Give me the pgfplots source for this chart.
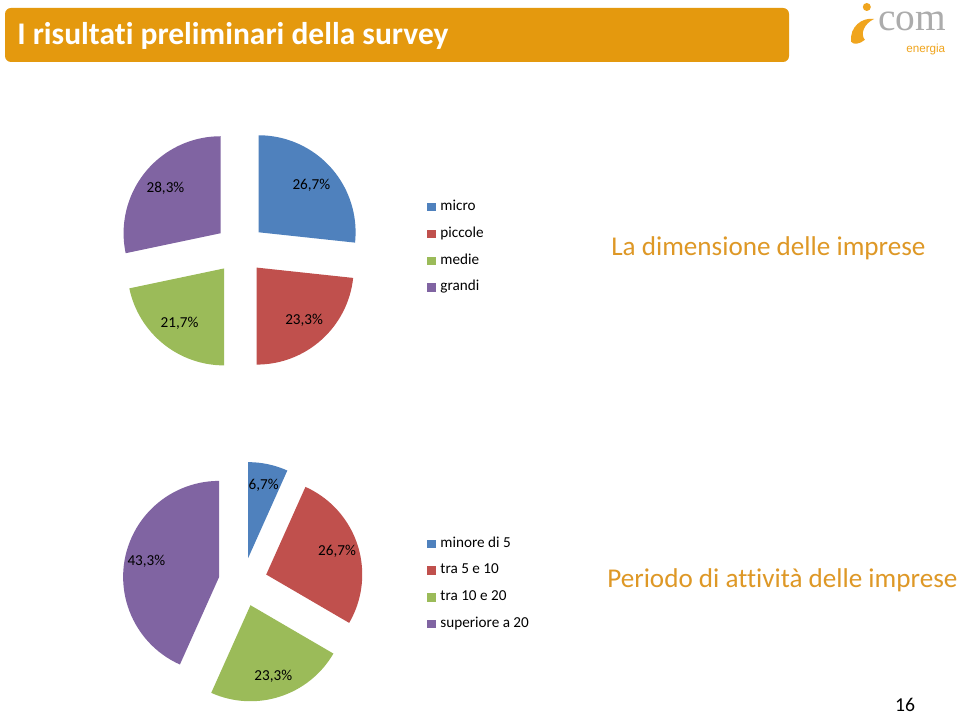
\documentclass[border=0pt]{standalone}
\usepackage{pgfplots}
\pgfplotsset{compat=1.18}
\usepackage{pgfplotstable}
\usepackage{fontspec}
\setmainfont{Carlito}[Ligatures=NoCommon]
\newfontfamily\seriff{Liberation Serif}
\newfontfamily\sansf{Liberation Sans}

\definecolor{cblue}{RGB}{79,129,189}
\definecolor{cred}{RGB}{192,80,77}
\definecolor{cgreen}{RGB}{155,187,89}
\definecolor{cpurple}{RGB}{128,100,162}
\definecolor{barorange}{RGB}{228,153,14}
\definecolor{txtorange}{RGB}{222,152,38}
\definecolor{logoorange}{RGB}{240,165,30}
\definecolor{logogray}{RGB}{172,172,172}

\newcommand\lblfont{\fontsize{10.8}{12}\selectfont}

% La dimensione delle imprese
\pgfplotstableread{
val col
26.7 cblue
23.3 cred
21.7 cgreen
28.3 cpurple
}\dimtab
% Periodo di attivita delle imprese
\pgfplotstableread{
val col
6.7 cblue
26.7 cred
23.3 cgreen
43.3 cpurple
}\pertab

% #1 table, #2 cx, #3 cy (axis units), #4 radius, #5 explode, #6 label distance
\newcommand\drawpie[6]{%
  \pgfplotstablegetrowsof{#1}%
  \pgfmathtruncatemacro\lastrow{\pgfplotsretval-1}%
  \def\cum{90}%
  \pgfplotsforeachungrouped \i in {0,...,\lastrow}{%
    \pgfplotstablegetelem{\i}{val}\of{#1}\let\sliceval\pgfplotsretval
    \pgfplotstablegetelem{\i}{col}\of{#1}\let\slicecol\pgfplotsretval
    \pgfmathsetmacro\endang{\cum-3.6*\sliceval}%
    \pgfmathsetmacro\midang{(\cum+\endang)/2}%
    \edef\tmp{%
      \noexpand\fill[\slicecol] ([shift={(\midang:#5)}]axis cs:#2,#3) -- ++(\cum:#4) arc[start angle=\cum, end angle=\endang, radius=#4] -- cycle;
      \noexpand\node[font=\noexpand\lblfont, text=black, inner sep=0pt] at ([shift={(\midang:#6)}]axis cs:#2,#3) {\noexpand\pgfmathprintnumber[fixed,fixed zerofill,precision=1,use comma,assume math mode=true]{\sliceval}\noexpand\%};%
    }%
    \tmp
    \let\cum\endang
  }%
}

\pgfplotsset{
  slide/.style={
    at={(0,0)}, anchor=south west, scale only axis,
    width=24cm, height=17.925cm,
    xmin=0, xmax=960, ymin=0, ymax=717,
    hide axis, clip=false,
    legend image code/.code={\fill[##1] (0cm,-0.105cm) rectangle (0.21cm,0.105cm);},
    legend cell align=left,
    legend style={draw=none, fill=none, inner sep=0pt, row sep=0.31cm,
      font=\lblfont,
      nodes={inner sep=0pt, text height=0.26cm, text depth=0.1cm},
      /tikz/every odd column/.append style={column sep=0.12cm}},
  }
}

\begin{document}
\begin{tikzpicture}
\fill[white] (0,0) rectangle (24cm,17.925cm);
\useasboundingbox (0,0) rectangle (24cm,17.925cm);

% title bar
\fill[barorange, rounded corners=0.15cm] (0.125cm,16.375cm) rectangle (19.725cm,17.725cm);
\node[anchor=base west, inner sep=0pt, text=white, font=\bfseries\fontsize{22.4}{26}\selectfont] at (0.425cm,16.8cm) {I risultati preliminari della survey};

% logo
\fill[logoorange] (21.67cm,17.75cm) circle (0.1cm);
\fill[logoorange] (21.28cm,16.88cm) .. controls (21.23cm,17.25cm) and (21.55cm,17.5cm) .. (21.85cm,17.45cm)
   .. controls (21.6cm,17.33cm) and (21.5cm,17.08cm) .. (21.62cm,16.93cm)
   .. controls (21.5cm,16.82cm) and (21.33cm,16.8cm) .. cycle;
\node[anchor=base west, inner sep=0pt, text=logogray, font=\seriff\fontsize{28}{30}\selectfont] at (21.95cm,17.15cm) {com};
\node[anchor=base west, inner sep=0pt, text=logoorange, font=\sansf\fontsize{8.3}{9}\selectfont] at (22.65cm,16.62cm) {energia};

% section titles
\node[anchor=base west, inner sep=0pt, text=txtorange, font=\fontsize{19.3}{22}\selectfont] at (15.275cm,11.525cm) {La dimensione delle imprese};
\node[anchor=base west, inner sep=0pt, text=txtorange, font=\fontsize{19.3}{22}\selectfont] at (15.175cm,3.25cm) {Periodo di attività delle imprese};

% page number
\node[inner sep=0pt, text=black, font=\fontsize{14}{16}\selectfont] at (22.625cm,0.3cm) {16};

\begin{axis}[slide, legend style={at={(axis cs:427,469.5)}, anchor=west}]
  \drawpie{\dimtab}{240}{468}{2.425cm}{0.625cm}{2.4cm}
  \addlegendimage{fill=cblue, draw=none}\addlegendentry{micro}
  \addlegendimage{fill=cred, draw=none}\addlegendentry{piccole}
  \addlegendimage{fill=cgreen, draw=none}\addlegendentry{medie}
  \addlegendimage{fill=cpurple, draw=none}\addlegendentry{grandi}
\end{axis}

\begin{axis}[slide, legend style={at={(axis cs:427,133)}, anchor=west}]
  \drawpie{\pertab}{243}{135}{2.4cm}{0.61cm}{2.47cm}
  \addlegendimage{fill=cblue, draw=none}\addlegendentry{minore di 5}
  \addlegendimage{fill=cred, draw=none}\addlegendentry{tra 5 e 10}
  \addlegendimage{fill=cgreen, draw=none}\addlegendentry{tra 10 e 20}
  \addlegendimage{fill=cpurple, draw=none}\addlegendentry{superiore a 20}
\end{axis}
\end{tikzpicture}
\end{document}
